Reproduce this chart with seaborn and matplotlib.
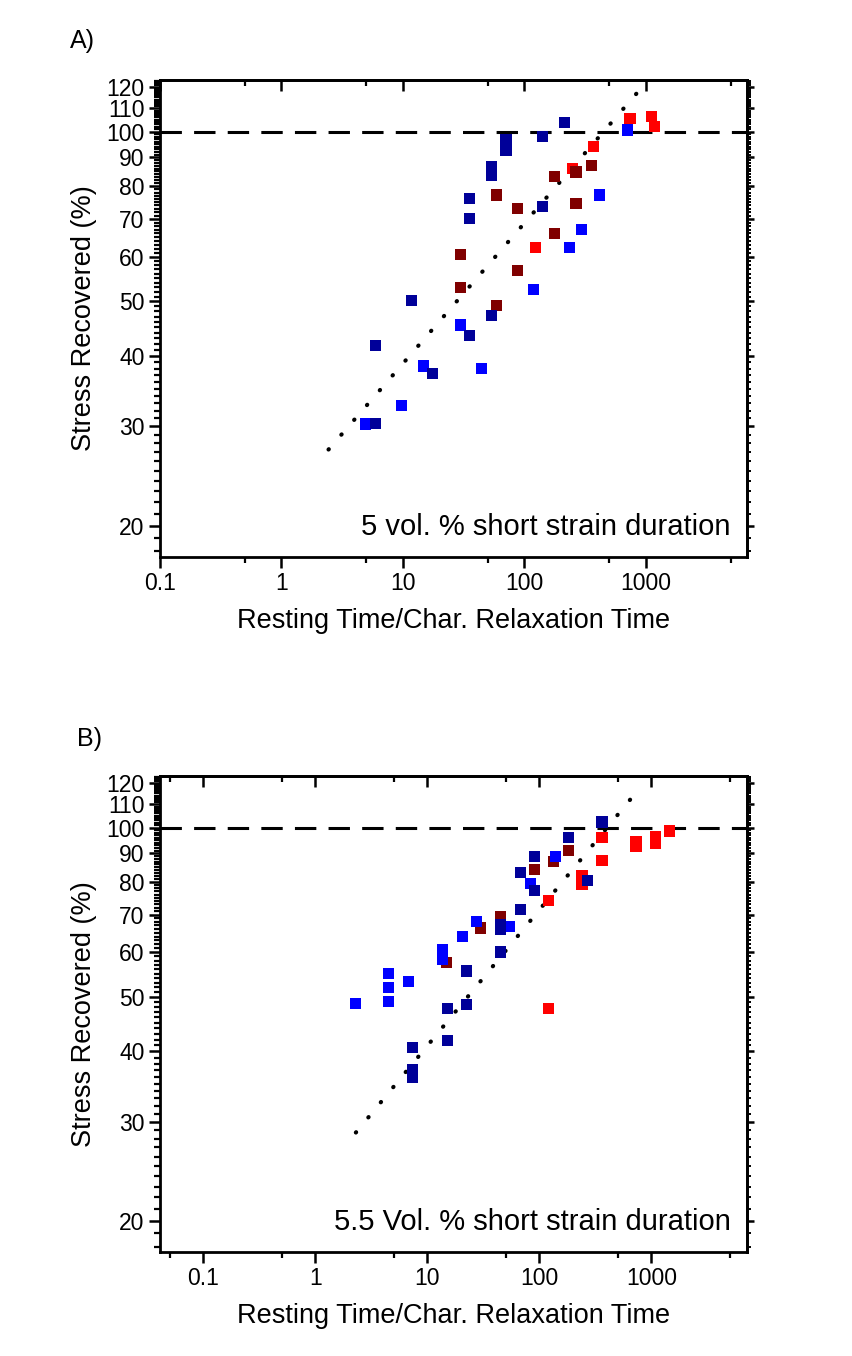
import matplotlib
matplotlib.use("Agg")
import matplotlib.pyplot as plt
import seaborn as sns
import pandas as pd
from matplotlib.ticker import FixedLocator, FixedFormatter, NullFormatter

# ---------------- Panel A data (5 vol. %) ----------------
a_navy_x = [214, 141.7, 70.6, 70.6, 53.2, 53.2, 35.2, 141.7, 35.2, 11.8, 53.2, 35.2, 5.9, 17.5, 5.9]
a_navy_y = [103.7, 98.0, 96.9, 92.5, 86.7, 83.6, 76.1, 73.6, 70.1, 50.2, 47.2, 43.5, 41.7, 37.2, 30.4]
a_blue_x = [708, 417, 297, 237, 118.2, 29.6, 14.85, 44.4, 9.7, 4.93]
a_blue_y = [100.7, 77.2, 67.1, 62.4, 52.5, 45.4, 38.4, 38.0, 32.7, 30.3]
a_dred_x = [356, 266, 176, 58.9, 88.4, 266, 176, 29.6, 88.4, 29.6, 58.9]
a_dred_y = [87.1, 84.8, 83.4, 77.2, 73.1, 74.6, 66.0, 60.5, 56.7, 53.0, 49.1]
a_red_x = [740, 1119, 1177, 369, 247.6, 123.4]
a_red_y = [105.5, 106.3, 102.1, 94.1, 85.9, 62.4]
a_fit_x = [2.44, 913]
a_fit_y = [27.3, 119.4]

# ---------------- Panel B data (5.5 Vol. %) ----------------
b_navy_x = [363, 181, 90.2, 67.3, 269, 90.2, 67.3, 45.0, 45.0, 45.0, 22.2, 15.0, 22.2, 15.0, 7.4, 7.4, 7.4]
b_navy_y = [102.3, 96.0, 88.7, 83.2, 80.4, 77.4, 71.4, 67.3, 66.0, 60.1, 55.6, 47.6, 48.4, 41.8, 40.7, 37.2, 35.9]
b_blue_x = [138.3, 82.7, 54.4, 27.3, 20.7, 13.7, 13.7, 4.53, 4.53, 6.84, 2.28, 4.53]
b_blue_y = [88.9, 79.5, 66.7, 68.1, 64.1, 60.8, 58.4, 55.0, 52.0, 53.2, 48.7, 49.1]
b_dred_x = [181, 135, 90.2, 45.0, 29.6, 14.9]
b_dred_y = [91.1, 87.0, 84.3, 69.4, 66.3, 57.6]
b_red_x = [363, 729, 729, 1099, 1099, 1452, 363, 240.6, 240.6, 120, 120]
b_red_y = [96.0, 94.3, 92.4, 96.2, 93.7, 98.6, 87.3, 82.1, 79.1, 74.3, 47.6]
b_fit_x = [2.30, 740]
b_fit_y = [28.7, 115.8]

x_major = [0.1, 1, 10, 100, 1000]
x_major_labels = ["0.1", "1", "10", "100", "1000"]
y_major = [20, 30, 40, 50, 60, 70, 80, 90, 100, 110, 120]
y_major_labels = [str(v) for v in y_major]

series_order = ["red", "darkred", "blue", "navy"]
palette = {"navy": "#000099", "blue": "#0000FF", "darkred": "#800000", "red": "#FF0000"}

sns.set_style("ticks")
plt.rcParams["font.family"] = ["Liberation Sans", "DejaVu Sans"]
plt.rcParams["text.color"] = "black"
plt.rcParams["axes.labelcolor"] = "black"
plt.rcParams["xtick.color"] = "black"
plt.rcParams["ytick.color"] = "black"
plt.rcParams["axes.edgecolor"] = "black"

fig = plt.figure(figsize=(8.53, 13.56), dpi=100)
W, H = 853, 1356
axA = fig.add_axes([160 / W, 1 - 557 / H, 587 / W, 477 / H])
axB = fig.add_axes([160 / W, 1 - 1252 / H, 587 / W, 476 / H])


def make_df(groups):
    frames = []
    for name in series_order:
        xs, ys = groups[name]
        frames.append(pd.DataFrame({"x": xs, "y": ys, "series": name}))
    return pd.concat(frames, ignore_index=True)


def style_axis(ax, xlim, x_minor, text):
    ax.set_xscale("log")
    ax.set_yscale("log")
    ax.set_xlim(*xlim)
    ax.set_ylim(17.6, 123.5)
    ax.xaxis.set_major_locator(FixedLocator(x_major))
    ax.xaxis.set_major_formatter(FixedFormatter(x_major_labels))
    ax.xaxis.set_minor_locator(FixedLocator(x_minor))
    ax.xaxis.set_minor_formatter(NullFormatter())
    y_minor = [v for v in range(18, 124) if v % 10 != 0]
    ax.yaxis.set_major_locator(FixedLocator(y_major))
    ax.yaxis.set_major_formatter(FixedFormatter(y_major_labels))
    ax.yaxis.set_minor_locator(FixedLocator(y_minor))
    ax.yaxis.set_minor_formatter(NullFormatter())
    ax.tick_params(which="major", direction="out", length=8, width=1.8,
                   labelsize=16.5, top=False, right=False, pad=3,
                   colors="black")
    ax.tick_params(which="minor", direction="out", length=4.5, width=1.6,
                   top=False, right=False, colors="black")
    for sp in ax.spines.values():
        sp.set_linewidth(2.0)
        sp.set_visible(True)
        sp.set_color("black")
    # top mirror ticks (inward)
    sx = ax.secondary_xaxis("top")
    sx.xaxis.set_major_locator(FixedLocator(x_major))
    sx.xaxis.set_minor_locator(FixedLocator(x_minor))
    sx.xaxis.set_major_formatter(NullFormatter())
    sx.xaxis.set_minor_formatter(NullFormatter())
    sx.tick_params(which="major", direction="in", length=8, width=1.8, colors="black")
    sx.tick_params(which="minor", direction="in", length=4.5, width=1.6, colors="black")
    sx.spines["top"].set_linewidth(2.0)
    sx.spines["top"].set_color("black")
    # right mirror ticks (outward)
    sy = ax.secondary_yaxis("right")
    sy.yaxis.set_major_locator(FixedLocator(y_major))
    sy.yaxis.set_minor_locator(FixedLocator(y_minor))
    sy.yaxis.set_major_formatter(NullFormatter())
    sy.yaxis.set_minor_formatter(NullFormatter())
    sy.tick_params(which="major", direction="out", length=5, width=1.8, colors="black")
    sy.tick_params(which="minor", direction="out", length=3, width=1.4, colors="black")
    sy.spines["right"].set_linewidth(2.0)
    sy.spines["right"].set_color("black")

    ax.axhline(100, color="black", lw=2.2, dashes=(7, 4), zorder=1)
    ax.set_xlabel("Resting Time/Char. Relaxation Time", fontsize=19.5, labelpad=9)
    ax.set_ylabel("Stress Recovered (%)", fontsize=19.5, labelpad=7)
    ax.text(0.972, 0.063, text, transform=ax.transAxes, ha="right", va="center",
            fontsize=21, color="black")


dfA = make_df({"navy": (a_navy_x, a_navy_y), "blue": (a_blue_x, a_blue_y),
               "darkred": (a_dred_x, a_dred_y), "red": (a_red_x, a_red_y)})
dfB = make_df({"navy": (b_navy_x, b_navy_y), "blue": (b_blue_x, b_blue_y),
               "darkred": (b_dred_x, b_dred_y), "red": (b_red_x, b_red_y)})

for ax, df, fx, fy in [(axA, dfA, a_fit_x, a_fit_y), (axB, dfB, b_fit_x, b_fit_y)]:
    ax.plot(fx, fy, color="black", lw=3.0, linestyle=(0, (0.1, 4.6)),
            dash_capstyle="round", zorder=2)
    sns.scatterplot(data=df, x="x", y="y", hue="series", palette=palette,
                    marker="s", s=64, linewidth=0, legend=False, ax=ax, zorder=3)

style_axis(axA, (0.1, 6800), [0.5, 5, 50, 500, 5000], "5 vol. % short strain duration")
style_axis(axB, (0.041, 7150), [0.05, 0.5, 5, 50, 500, 5000], "5.5 Vol. % short strain duration")

fig.text(70 / W, 1 - 41 / H, "A)", fontsize=18, ha="left", va="center")
fig.text(77 / W, 1 - 739 / H, "B)", fontsize=18, ha="left", va="center")

fig.savefig("out.png", dpi=100, facecolor="white")
